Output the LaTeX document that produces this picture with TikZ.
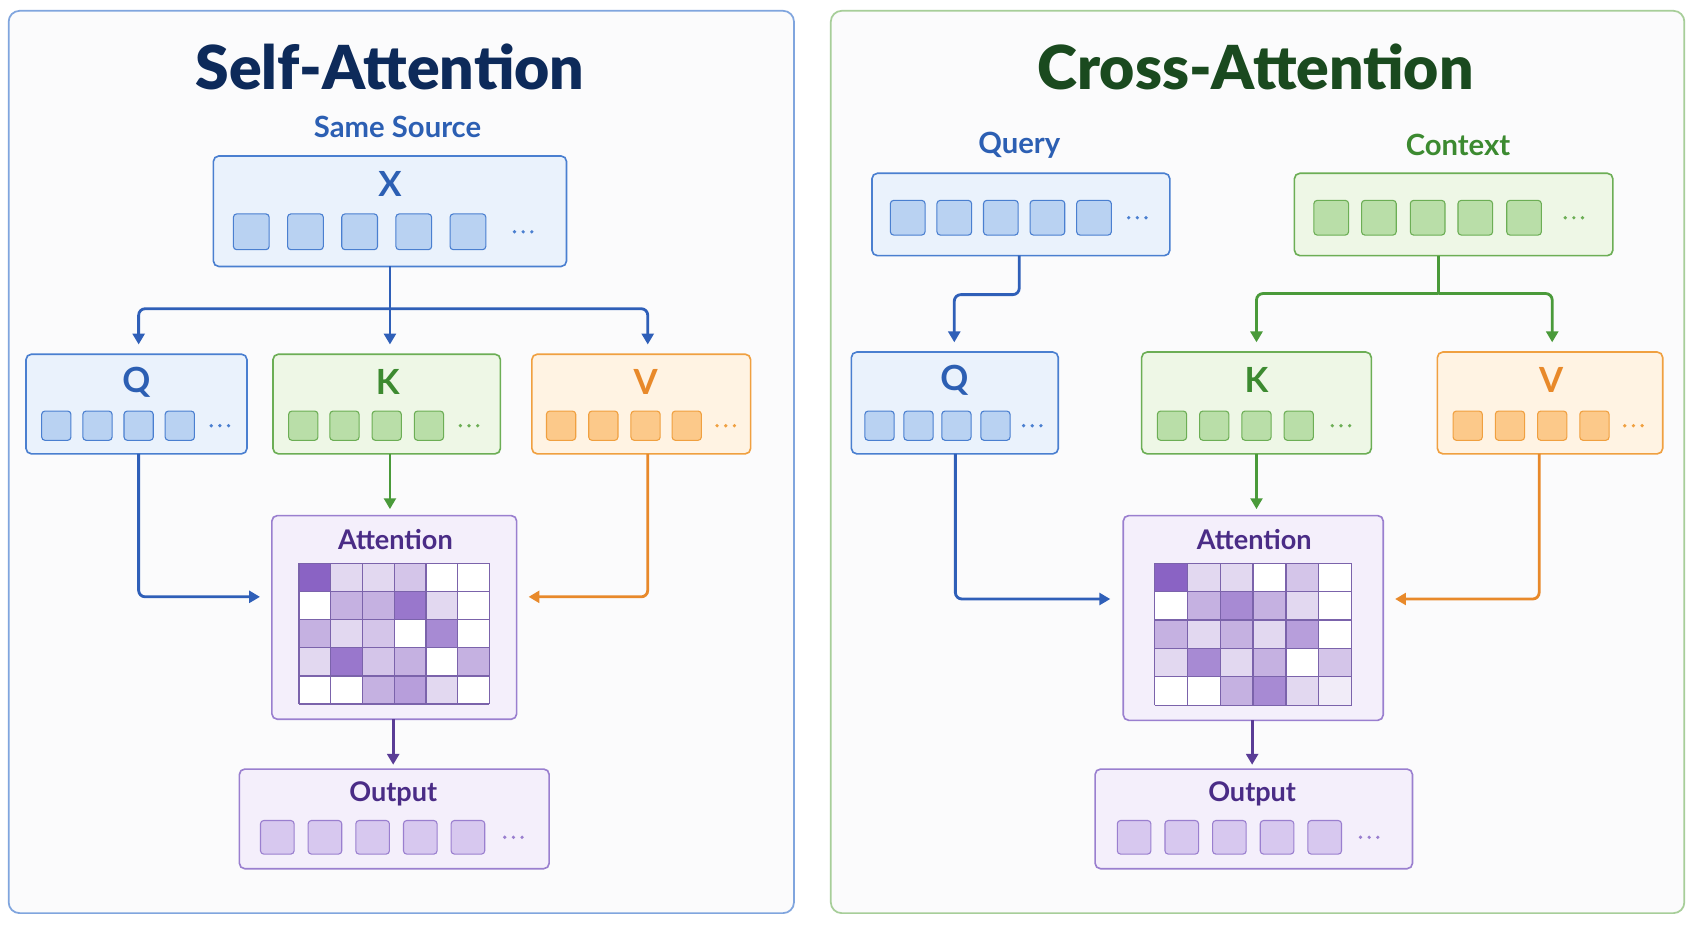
\documentclass[tikz,border=0pt]{standalone}
\usepackage{fontspec}
\setmainfont{Lato}
\usetikzlibrary{arrows.meta}
\definecolor{bS}{HTML}{4A7FD0}\definecolor{bF}{HTML}{EAF2FC}\definecolor{bC}{HTML}{B9D2F2}\definecolor{bA}{HTML}{2F5FB8}
\definecolor{gS}{HTML}{6CAE55}\definecolor{gF}{HTML}{EEF7E6}\definecolor{gC}{HTML}{B9DEA8}\definecolor{gA}{HTML}{4A9A3A}
\definecolor{oS}{HTML}{F0A040}\definecolor{oF}{HTML}{FFF3E3}\definecolor{oC}{HTML}{FCC98A}\definecolor{oA}{HTML}{E8892A}
\definecolor{pS}{HTML}{9A7FCF}\definecolor{pF}{HTML}{F4EFFB}\definecolor{pC}{HTML}{D7C8EF}\definecolor{pA}{HTML}{5A3C96}\definecolor{pD}{HTML}{8A63C4}
\definecolor{navy}{HTML}{0D2A5A}\definecolor{dgreen}{HTML}{1A4A1F}\definecolor{lblue}{HTML}{2C5FB3}\definecolor{lgreen}{HTML}{3C8A30}\definecolor{ptxt}{HTML}{4A2C86}
\definecolor{bgp}{HTML}{FBFBFC}
\tikzset{x=1pt,y=-1pt,
 panel/.style={draw=#1,line width=1.6pt,rounded corners=10pt,fill=bgp},
 box/.style={line width=1.5pt,rounded corners=5pt},
 cell/.style={line width=1pt,rounded corners=3pt},
 arr/.style={line width=2.6pt,-{Triangle[length=10pt,width=11pt]},rounded corners=6pt},
 lab/.style={font=\bfseries\fontsize{32}{34}\selectfont},
 sub/.style={font=\bfseries\fontsize{27}{30}\selectfont},
 sub2/.style={font=\bfseries\fontsize{25}{27}\selectfont,text=ptxt},
 ttl/.style={font=\fontspec{Lato Black}\fontsize{56}{60}\selectfont}}
\newcommand\cellrow[7]{\foreach \cx in {#5}{\draw[cell,draw=#1,fill=#2] (\cx-#4/2,#3-#4/2) rectangle (\cx+#4/2,#3+#4/2);}
 \coordinate (#7) at (#6,#3);
 \foreach \dd in {-8,0,8}{\fill[#1] ([xshift=\dd pt]#7) circle (1.7pt);}}
\newcommand\attgrid[5]{%
 \foreach \gv [count=\gi from 0] in {#5}{%
   \pgfmathtruncatemacro\gr{\gi/6}%
   \pgfmathtruncatemacro\gc{\gi-6*\gr}%
   \pgfmathtruncatemacro\pct{\gv*25}%
   \fill[pD!\pct!white] (#1+\gc*#3,#2+\gr*#4) rectangle (#1+\gc*#3+#3,#2+\gr*#4+#4);}
 \foreach \gc in {0,...,6}{\draw[pA!80,line width=1.2pt] (#1+\gc*#3,#2) -- (#1+\gc*#3,#2+5*#4);}
 \foreach \gr in {0,...,5}{\draw[pA!80,line width=1.2pt] (#1,#2+\gr*#4) -- (#1+6*#3,#2+\gr*#4);}}
\begin{document}
\begin{tikzpicture}
\useasboundingbox[fill=white] (0,0) rectangle (1563,857);
\draw[panel=bS!70] (8,10) rectangle (733,843);
\draw[panel=gS!60] (767,10) rectangle (1555,843);
% ---------- Self attention
\node[ttl,text=navy] (t1) at (360,62) {Self-Attention};
\node[sub,text=lblue] (ss) at (367,117) {Same Source};
\draw[box,draw=bS,fill=bF] (197,144) rectangle (523,246);
\node[lab,text=lblue] (X) at (360,170) {X};
\cellrow{bS}{bC}{214}{33}{232,282,332,382,432}{483}{xd}
\coordinate (xb) at (360,246);
\draw[box,draw=bS,fill=bF] (24,327) rectangle (228,419);
\node[lab,text=lblue] (Q1) at (126,353) {Q};
\cellrow{bS}{bC}{393}{27}{52,90,128,166}{203}{qd}
\draw[box,draw=gS,fill=gF] (252,327) rectangle (462,419);
\node[lab,text=lgreen] (K1) at (358,353) {K};
\cellrow{gS}{gC}{393}{27}{280,318,357,396}{433}{kd}
\draw[box,draw=oS,fill=oF] (491,327) rectangle (693,419);
\node[lab,text=oA] (V1) at (596,353) {V};
\cellrow{oS}{oC}{393}{27}{518,557,596,634}{670}{vd}
\draw[bA,line width=2.6pt] (xb) -- (360,285);
\draw[arr,bA] (360,285) -| (128,318);
\draw[arr,bA] (360,285) -- (360,318);
\draw[arr,bA] (360,285) -| (598,318);
\draw[arr,gA] (360,419) -- (360,470);
\draw[box,draw=pS,fill=pF] (251,476) rectangle (477,664);
\node[sub2] (A1) at (365,498) {Attention};
\attgrid{276}{520}{29.3}{26}{4,1,1,1.5,0,0, 0,2,2,3.5,1,0, 2,1,1.5,0,3,0, 1,3.5,1.5,2,0,2, 0,0,2,2.5,1,0}
\draw[arr,bA] (128,419) |- (240,551);
\draw[arr,oA] (598,419) |- (488,551);
\draw[arr,pA] (363,664) -- (363,706);
\draw[box,draw=pS,fill=pF] (221,710) rectangle (507,802);
\node[sub2] (O1) at (363,733) {Output};
\cellrow{pS}{pC}{773}{31}{256,300,344,388,432}{474}{od}
% ---------- Cross attention
\node[ttl,text=dgreen] (t2) at (1159,62) {Cross-Attention};
\node[sub,text=lblue] (qq) at (941,134) {Query};
\node[sub,text=lgreen] (cc) at (1346,134) {Context};
\draw[box,draw=bS,fill=bF] (805,160) rectangle (1080,236);
\cellrow{bS}{bC}{201}{32}{838,881,924,967,1010}{1050}{qd2}
\draw[box,draw=gS,fill=gF] (1195,160) rectangle (1489,236);
\cellrow{gS}{gC}{201}{32}{1229,1273,1318,1362,1407}{1453}{cd2}
\draw[box,draw=bS,fill=bF] (786,325) rectangle (977,419);
\node[lab,text=lblue] (Q2) at (881,351) {Q};
\cellrow{bS}{bC}{393}{27}{812,848,883,919}{953}{q2d}
\draw[box,draw=gS,fill=gF] (1054,325) rectangle (1266,419);
\node[lab,text=lgreen] (K2) at (1160,351) {K};
\cellrow{gS}{gC}{393}{27}{1082,1121,1160,1199}{1238}{k2d}
\draw[box,draw=oS,fill=oF] (1327,325) rectangle (1535,419);
\node[lab,text=oA] (V2) at (1432,351) {V};
\cellrow{oS}{oC}{393}{27}{1355,1394,1433,1472}{1508}{v2d}
\draw[arr,bA] (941,236) -- (941,272) -| (881,316);
\draw[gA,line width=2.6pt] (1328,236) -- (1328,271);
\draw[arr,gA] (1328,271) -| (1160,316);
\draw[arr,gA] (1328,271) -| (1433,316);
\draw[arr,gA] (1160,419) -- (1160,470);
\draw[box,draw=pS,fill=pF] (1037,476) rectangle (1277,665);
\node[sub2] (A2) at (1158,498) {Attention};
\attgrid{1066}{520}{30.3}{26.2}{4,1,1,0,1.5,0, 0,2,3,2,1,0, 2,1,2,1,2.5,0, 1,3,1,2,0,1.5, 0,0,2,3,1,0.5}
\draw[arr,bA] (882,419) |- (1025,553);
\draw[arr,oA] (1421,419) |- (1288,553);
\draw[arr,pA] (1156,665) -- (1156,706);
\draw[box,draw=pS,fill=pF] (1011,710) rectangle (1304,802);
\node[sub2] (O2) at (1156,733) {Output};
\cellrow{pS}{pC}{773}{31}{1047,1091,1135,1179,1223}{1264}{o2d}
\end{tikzpicture}
\end{document}
